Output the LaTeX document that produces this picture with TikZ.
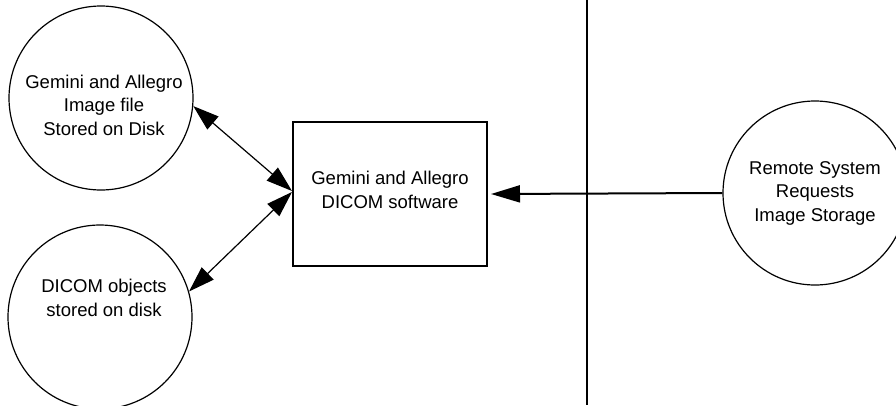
\documentclass[tikz,border=0pt]{standalone}
\usepackage{fontspec}
\setmainfont{Liberation Sans}
\usetikzlibrary{arrows.meta}
\begin{document}
\begin{tikzpicture}[x=1pt,y=-1pt,
  txt/.style={align=center,font=\fontsize{18.5}{23.5}\selectfont,inner sep=0pt},
  bubble/.style={circle,draw,line width=1.2pt,minimum size=184pt,inner sep=0pt},
  sbox/.style={draw,line width=2pt,minimum width=194pt,minimum height=144pt,inner sep=0pt},
  dbl/.style={line width=1.2pt,{Triangle[length=26pt,width=17pt]}-{Triangle[length=26pt,width=17pt]}},
  sgl/.style={line width=2pt,-{Triangle[length=29pt,width=17pt]}}]
\useasboundingbox (0,0) rectangle (896,405);
\node[bubble] (c1) at (101,98) {};
\node[txt] (t1) at (104,105) {Gemini and Allegro\\Image file\\Stored on Disk};
\node[bubble] (c2) at (100,317) {};
\node[txt] (t2) at (104,298) {DICOM objects\\stored on disk};
\node[sbox] (b) at (390,194) {};
\node[txt] (tb) at (390,190) {Gemini and Allegro\\DICOM software};
\node[bubble] (r) at (815,193) {};
\node[txt] (tr) at (815,193) {Remote System\\Requests\\Image Storage};
\coordinate (vt) at (587,0);
\coordinate (vb) at (587,405);
\draw[line width=2pt] (vt) -- (vb);
\draw[dbl] (c1.-5) -- ([yshift=3pt]b.west);
\draw[dbl] (c2.16) -- ([yshift=2pt]b.west);
\draw[sgl] (r.west) -- ([xshift=3pt]b.east);
\end{tikzpicture}
\end{document}
